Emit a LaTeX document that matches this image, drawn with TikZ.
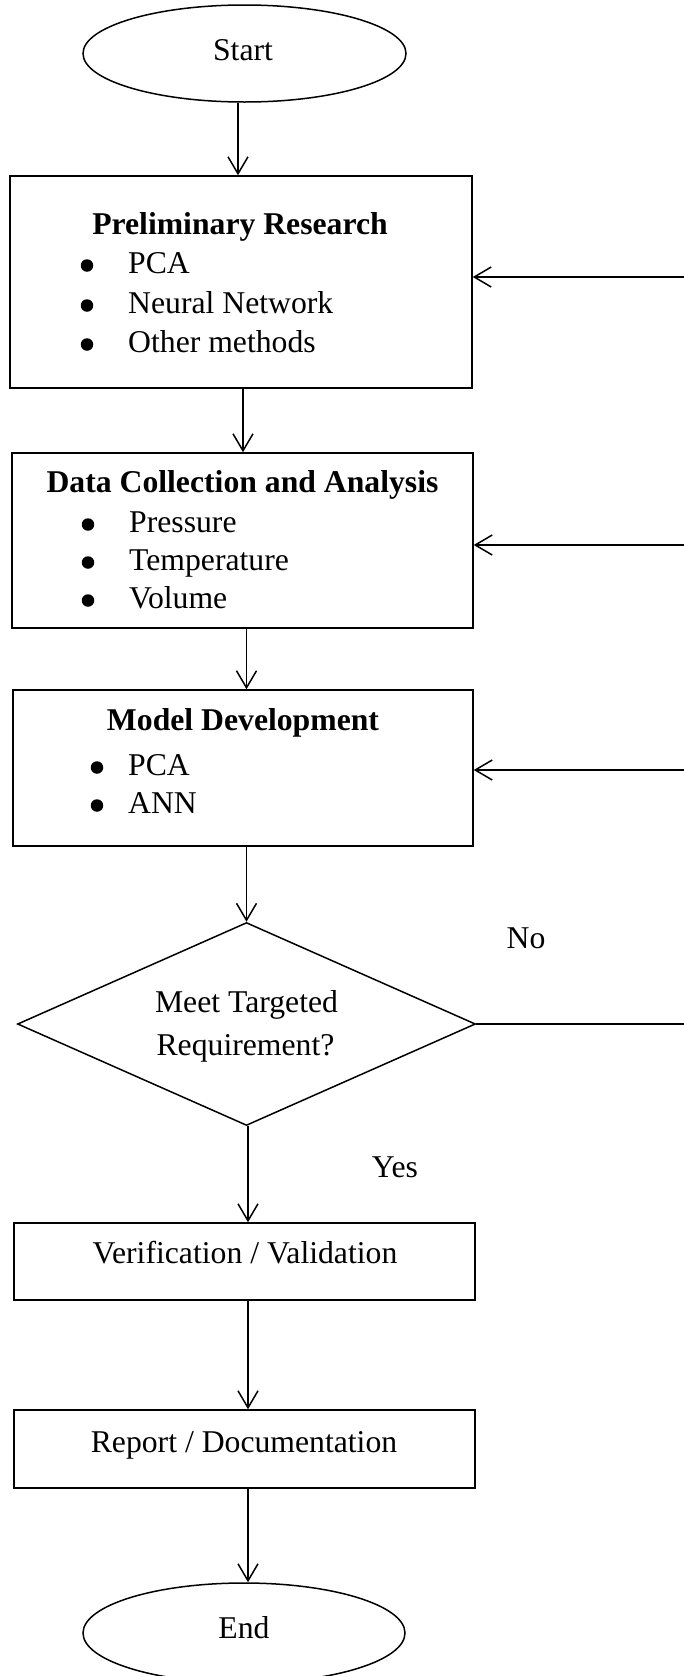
\documentclass[tikz,border=0pt]{standalone}
\usepackage{fontspec}
\setmainfont{Liberation Serif}
\usetikzlibrary{shapes.geometric,arrows.meta}

\tikzset{
  txt/.style={font=\fontsize{31.7}{43}\selectfont, inner sep=0pt, anchor=base},
  ttl/.style={font=\fontsize{31.7}{43}\selectfont\bfseries, inner sep=0pt, anchor=base},
  itm/.style={font=\fontsize{31.7}{43}\selectfont, inner sep=0pt, anchor=base west},
  blt/.style={circle, fill, inner sep=0pt, minimum size=12.5pt, yshift=7.5pt},
  stepbox/.style={draw, line width=1.5pt, inner sep=0pt},
  term/.style={ellipse, draw, line width=1.5pt, inner sep=0pt},
  choice/.style={diamond, aspect=2.25, draw, line width=1.5pt, inner sep=0pt},
  arr/.style={line width=1.5pt, -{Straight Barb[length=17pt,width=20pt,line width=1.5pt]}},
  plain/.style={line width=1.5pt}
}

\begin{document}
\begin{tikzpicture}[x=1pt,y=-1pt]
\useasboundingbox (0,0) rectangle (684,1676);

% start terminal
\node[term, minimum width=323pt, minimum height=97pt] (start) at (244.5,53.5) {};
\node[txt] (startlbl) at (243,60) {Start};

% preliminary research
\node[stepbox, minimum width=462pt, minimum height=212pt] (prelim) at (241,282) {};
\node[ttl] (prelimT) at (240,234) {Preliminary Research};
\node[blt] (pb1) at (87,273) {};
\node[itm] (pi1) at (128,273) {PCA};
\node[blt] (pb2) at (87,313) {};
\node[itm] (pi2) at (128,313) {Neural Network};
\node[blt] (pb3) at (87,352) {};
\node[itm] (pi3) at (128,352) {Other methods};

% data collection
\node[stepbox, minimum width=461pt, minimum height=175pt] (data) at (242.5,540.5) {};
\node[ttl] (dataT) at (242.5,492) {Data Collection and Analysis};
\node[blt] (db1) at (88,532) {};
\node[itm] (di1) at (129,532) {Pressure};
\node[blt] (db2) at (88,570) {};
\node[itm] (di2) at (129,570) {Temperature};
\node[blt] (db3) at (88,608) {};
\node[itm] (di3) at (129,608) {Volume};

% model development
\node[stepbox, minimum width=460pt, minimum height=156pt] (model) at (243,768) {};
\node[ttl] (modelT) at (243,730) {Model Development};
\node[blt] (mb1) at (97,775) {};
\node[itm] (mi1) at (128,775) {PCA};
\node[blt] (mb2) at (97,813) {};
\node[itm] (mi2) at (128,813) {ANN};

% decision
\node[choice, minimum width=458pt, minimum height=203pt] (dec) at (246.5,1024) {};
\node[txt] (dec1) at (246.5,1012) {Meet Targeted};
\node[txt] (dec2) at (245.5,1055) {Requirement?};
\node[txt] (nolbl) at (526,948) {No};
\node[txt] (yeslbl) at (395,1177) {Yes};

% verification and report
\node[stepbox, minimum width=461pt, minimum height=77pt] (verif) at (244.5,1261.5) {};
\node[txt] (veriflbl) at (245,1263) {Verification / Validation};
\node[stepbox, minimum width=461pt, minimum height=78pt] (report) at (244.5,1449) {};
\node[txt] (reportlbl) at (244,1452) {Report / Documentation};

% end terminal
\node[term, minimum width=322pt, minimum height=100pt] (end) at (244,1633) {};
\node[txt] (endlbl) at (244,1638) {End};

% main flow
\draw[arr] ([xshift=-6.5pt]start.south) -- ([xshift=-6.5pt]start.south |- prelim.north);
\draw[arr] ([xshift=2pt]prelim.south) -- ([xshift=2pt]prelim.south |- data.north);
\draw[arr] ([xshift=4pt]data.south) -- ([xshift=4pt]data.south |- model.north);
\draw[arr] (model.south -| dec.north) -- (dec.north);
\draw[arr] ([xshift=1.5pt]dec.south) -- ([xshift=1.5pt]dec.south |- verif.north);
\draw[arr] ([xshift=3.5pt]verif.south) -- ([xshift=3.5pt]verif.south |- report.north);
\draw[arr] ([xshift=3.5pt]report.south) -- ([xshift=3.5pt]report.south |- end.north);

% feedback from the decision, entering from the right edge
\coordinate (fb0) at (684,1024);
\coordinate (fb1) at (684,277);
\coordinate (fb2) at (684,545);
\coordinate (fb3) at (684,770);
\draw[plain] (dec.east) -- (dec.east -| fb0);
\draw[arr] (fb1) -- (fb1 -| prelim.east);
\draw[arr] (fb2) -- (fb2 -| data.east);
\draw[arr] (fb3) -- (fb3 -| model.east);
\end{tikzpicture}
\end{document}
